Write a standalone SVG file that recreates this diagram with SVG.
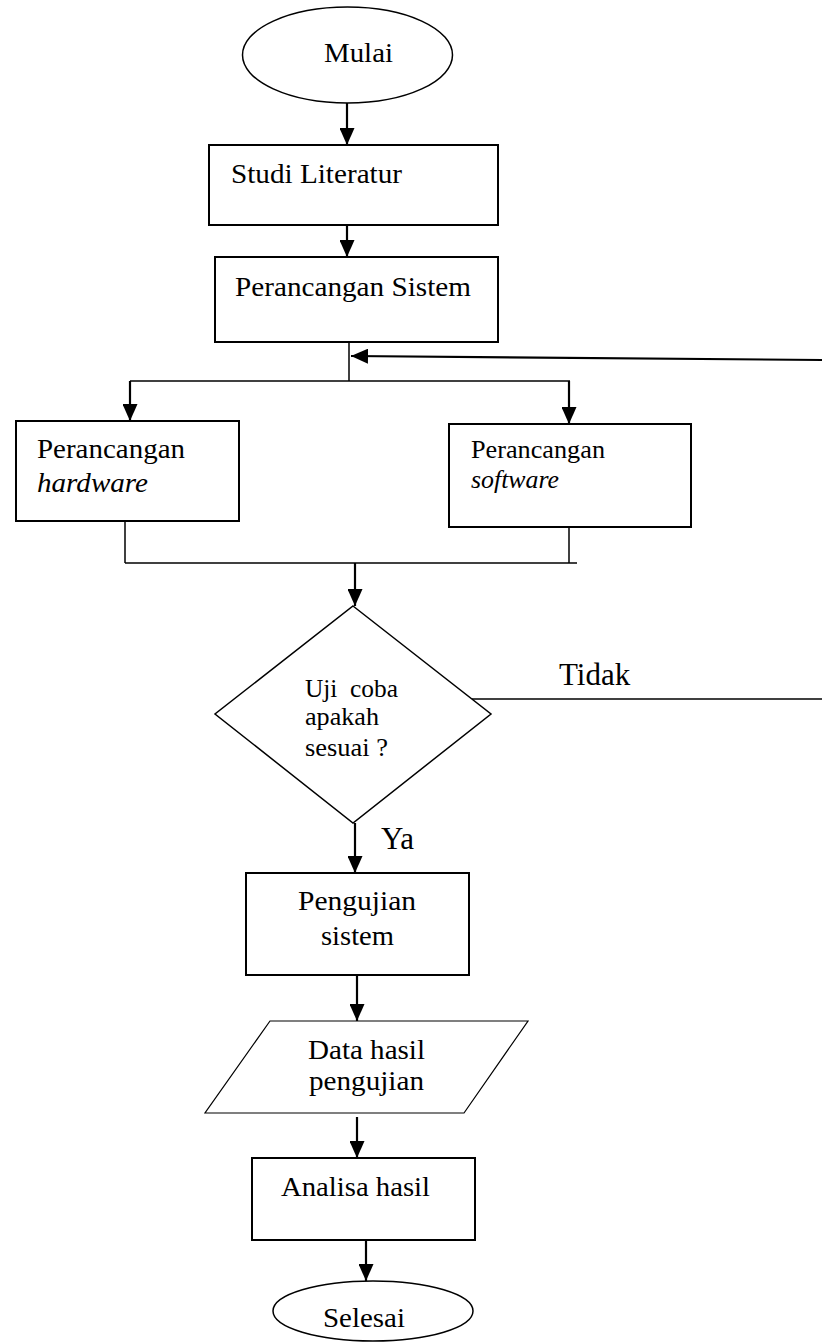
<svg xmlns="http://www.w3.org/2000/svg" width="822" height="1344" viewBox="0 0 822 1344">
  <style>
    .box { fill: #fff; stroke: #000; stroke-width: 2; }
    .term { fill: #fff; stroke: #000; stroke-width: 1.5; }
    .io { fill: #fff; stroke: #000; stroke-width: 1.2; }
    .sm { font-size: 25px; }
    .big { font-size: 31px; }
    .it { font-style: italic; }
    .arrow { fill: none; stroke: #000; stroke-width: 2.2; marker-end: url(#head); }
    .line { fill: none; stroke: #000; stroke-width: 1.5; }
  </style>
  <defs>
    <marker id="head" markerUnits="userSpaceOnUse" markerWidth="17" markerHeight="15" refX="17" refY="7.5" orient="auto">
      <path d="M0,0 L17,7.5 L0,15 z" fill="#000"/>
    </marker>
  </defs>

  <rect width="822" height="1344" fill="#fff"/>

  <g font-family="Liberation Serif, Times New Roman, serif" font-size="28" fill="#000">
    <!-- connectors -->
    <g id="connectors">
      <line class="arrow" x1="347" y1="103" x2="347" y2="145"/>
      <line class="arrow" x1="347" y1="215" x2="347" y2="257"/>
      <line class="line" x1="349" y1="342" x2="349" y2="381"/>
      <line class="arrow" x1="822" y1="360" x2="351" y2="356"/>
      <line class="line" x1="130" y1="381" x2="570" y2="381"/>
      <line class="arrow" x1="130" y1="381" x2="130" y2="421"/>
      <line class="arrow" x1="569" y1="381" x2="569" y2="424"/>
      <line class="line" x1="125" y1="521" x2="125" y2="563"/>
      <line class="line" x1="569" y1="522" x2="569" y2="563"/>
      <line class="line" x1="125" y1="563" x2="577" y2="563"/>
      <line class="arrow" x1="355" y1="563" x2="355" y2="606"/>
      <line class="line" x1="472" y1="699" x2="822" y2="699"/>
      <line class="arrow" x1="355" y1="823" x2="355" y2="873"/>
      <line class="arrow" x1="357" y1="975" x2="357" y2="1021"/>
      <line class="arrow" x1="357" y1="1117" x2="357" y2="1158"/>
      <line class="arrow" x1="366" y1="1240" x2="366" y2="1281"/>
      <text class="big" x="559" y="685">Tidak</text>
      <text class="big" x="381" y="849">Ya</text>
    </g>

    <g id="mulai">
      <ellipse class="term" cx="347.5" cy="55" rx="105" ry="48"/>
      <text x="324" y="62" textLength="69" lengthAdjust="spacingAndGlyphs">Mulai</text>
    </g>

    <g id="studi-literatur">
      <rect class="box" x="209" y="145" width="289" height="80"/>
      <text x="231" y="183" textLength="171" lengthAdjust="spacingAndGlyphs">Studi Literatur</text>
    </g>

    <g id="perancangan-sistem">
      <rect class="box" x="215" y="257" width="283" height="85"/>
      <text x="235" y="296" textLength="236" lengthAdjust="spacingAndGlyphs">Perancangan Sistem</text>
    </g>

    <g id="perancangan-hardware">
      <rect class="box" x="16" y="421" width="223" height="100"/>
      <text x="37" y="458" textLength="148" lengthAdjust="spacingAndGlyphs">Perancangan</text>
      <text class="it" x="37" y="492" textLength="111" lengthAdjust="spacingAndGlyphs">hardware</text>
    </g>

    <g id="perancangan-software">
      <rect class="box" x="449" y="424" width="242" height="103"/>
      <text class="sm" x="471" y="458" textLength="134" lengthAdjust="spacingAndGlyphs">Perancangan</text>
      <text class="sm it" x="471" y="488" textLength="88" lengthAdjust="spacingAndGlyphs">software</text>
    </g>

    <g id="uji-coba">
      <polygon class="term" points="353,606 491,714 353,823 215,714"/>
      <text class="sm" x="305" y="697" textLength="93" lengthAdjust="spacingAndGlyphs" xml:space="preserve">Uji  coba</text>
      <text class="sm" x="305" y="725" textLength="74" lengthAdjust="spacingAndGlyphs">apakah</text>
      <text class="sm" x="305" y="756" textLength="83" lengthAdjust="spacingAndGlyphs">sesuai ?</text>
    </g>

    <g id="pengujian-sistem">
      <rect class="box" x="246" y="873" width="223" height="102"/>
      <text x="298" y="910" textLength="118" lengthAdjust="spacingAndGlyphs">Pengujian</text>
      <text x="321" y="945" textLength="73" lengthAdjust="spacingAndGlyphs">sistem</text>
    </g>

    <g id="data-hasil">
      <polygon class="io" points="270,1021 528,1021 464,1113 205,1113"/>
      <text x="308" y="1059" textLength="117" lengthAdjust="spacingAndGlyphs">Data hasil</text>
      <text x="309" y="1090" textLength="115" lengthAdjust="spacingAndGlyphs">pengujian</text>
    </g>

    <g id="analisa-hasil">
      <rect class="box" x="252" y="1158" width="223" height="82"/>
      <text x="281" y="1196" textLength="149" lengthAdjust="spacingAndGlyphs">Analisa hasil</text>
    </g>

    <g id="selesai">
      <ellipse class="term" cx="373" cy="1311" rx="100" ry="30"/>
      <text x="323" y="1327" textLength="82" lengthAdjust="spacingAndGlyphs">Selesai</text>
    </g>
  </g>
</svg>
